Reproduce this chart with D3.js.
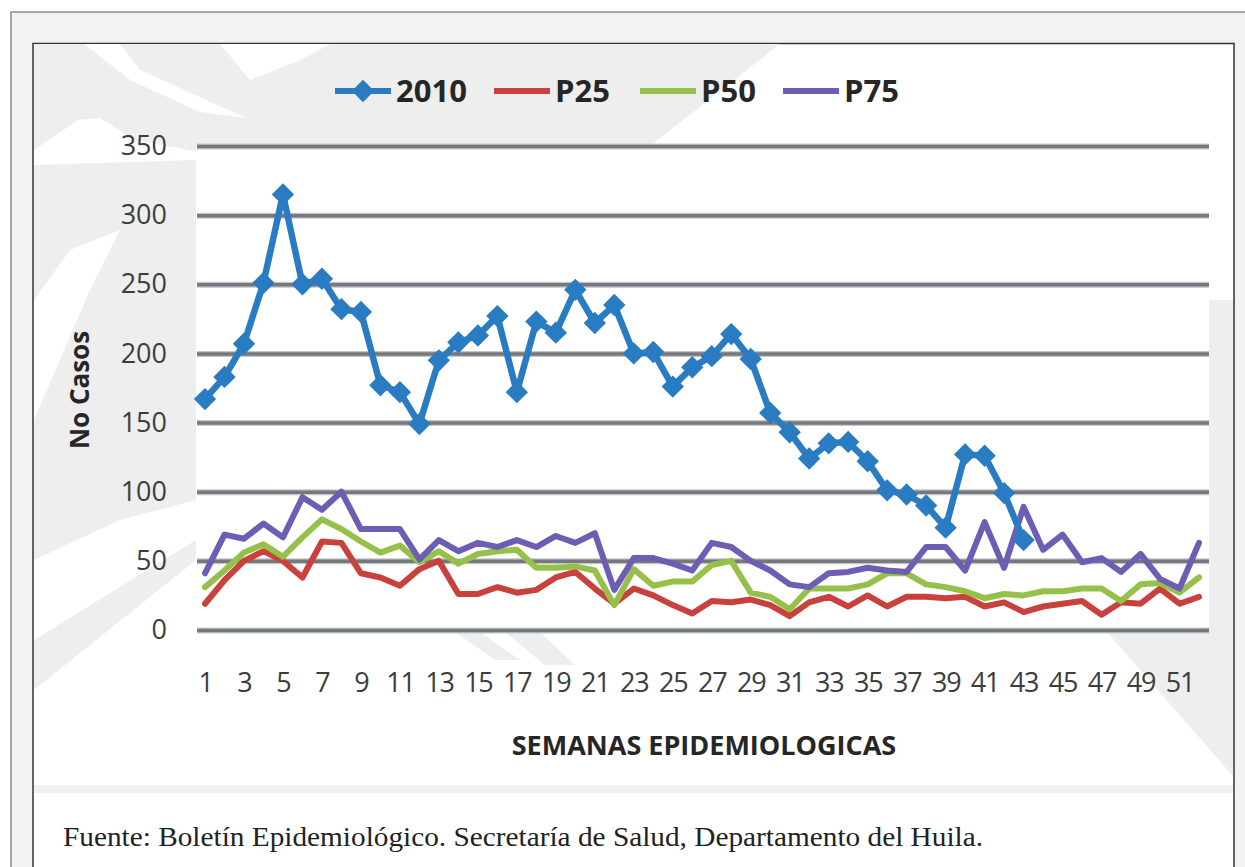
<!DOCTYPE html>
<html><head><meta charset="utf-8">
<script src="https://cdn.jsdelivr.net/npm/d3@7"></script>
<style>html,body{margin:0;padding:0;background:#fff;overflow:hidden} svg{display:block}</style>
</head><body>
<svg id="c" width="1245" height="867"></svg>
<script>
// ---- data ----
const weeks = [1,2,3,4,5,6,7,8,9,10,11,12,13,14,15,16,17,18,19,20,21,22,23,24,25,26,27,28,29,30,31,32,33,34,35,36,37,38,39,40,41,42,43,44,45,46,47,48,49,50,51,52];
const s2010 = [167,183,207,251,315,250,254,232,230,177,172,149,195,208,213,227,172,223,215,246,222,235,200,201,176,190,198,214,196,157,143,124,135,136,122,101,98,90,74,127,126,99,65];
const p25 = [19,36,50,57,50,38,64,63,41,38,32,44,50,26,26,31,27,29,38,42,30,19,30,25,18,12,21,20,22,18,10,20,24,17,25,17,24,24,23,24,17,20,13,17,19,21,11,20,19,30,19,24];
const p50 = [31,43,56,62,53,67,80,73,64,56,61,49,57,48,55,57,58,45,45,46,43,18,44,32,35,35,47,50,27,24,15,30,30,30,33,41,41,33,31,28,23,26,25,28,28,30,30,21,33,34,27,38];
const p75 = [41,69,66,77,67,96,87,100,73,73,73,51,65,57,63,60,65,60,68,63,70,29,52,52,48,43,63,60,50,43,33,31,41,42,45,43,42,60,60,43,78,45,89,58,69,49,52,42,55,37,30,63];
const yTicks = [0,50,100,150,200,250,300,350];
const xTickLabels = [1,3,5,7,9,11,13,15,17,19,21,23,25,27,29,31,33,35,37,39,41,43,45,47,49,51];
const seriesNames = ["2010","P25","P50","P75"];
const seriesColors = ["#2a7cc2","#c8413d","#97c04a","#6d5eb3"];
const yTitle = "No Casos";
const xTitle = "SEMANAS EPIDEMIOLOGICAS";
const caption = "Fuente: Boletín Epidemiológico. Secretaría de Salud, Departamento del Huila.";

// ---- drawing ----
const svg = d3.select("#c");
const sans = "'Open Sans', 'Liberation Sans', sans-serif";

// outer page frame
svg.append("rect").attr("x",11).attr("y",12).attr("width",1245).attr("height",900)
  .attr("fill","#f1f2f4").attr("stroke","#8a8a8a").attr("stroke-width",1.5);
// inner box
svg.append("rect").attr("x",33).attr("y",43.5).attr("width",1201).attr("height",900)
  .attr("fill","#ffffff").attr("stroke","#333").attr("stroke-width",1.5);

// watermark shapes (decorative)
const wm = svg.append("g");
const gray = "#eeeeef";
const polys = [
  [[34,44],[780,44],[650,146],[34,146]],
  [[34,44],[196,44],[196,560],[34,690]],
  [[1209,300],[1233,300],[1233,776],[1107,632],[1209,632]],
  [[505,632],[540,632],[575,665],[545,665]],
  [[455,632],[480,632],[520,660],[495,660]]
];
polys.forEach(p => wm.append("polygon").attr("points", p.map(d=>d.join(",")).join(" ")).attr("fill",gray));
const whites = [
  [[84,44],[120,44],[140,70],[246,118],[200,112],[130,80]],
  [[78,120],[100,118],[135,140],[200,152],[196,160],[34,165],[34,150]],
  [[220,44],[330,44],[300,60],[250,80]],
  [[34,300],[70,250],[120,230],[90,290],[34,420]],
  [[34,560],[120,520],[196,500],[196,540],[34,640]]
];
whites.forEach(p => wm.append("polygon").attr("points", p.map(d=>d.join(",")).join(" ")).attr("fill","#fff"));

// plot area
const L = 197, R = 1209, T = 146, B = 630;
svg.append("rect").attr("x",L).attr("y",T).attr("width",R-L).attr("height",B-T+2).attr("fill","#fff");

// bottom separator band
svg.append("rect").attr("x",34).attr("y",785).attr("width",1199).attr("height",8).attr("fill","#eef0f2");

const x = d3.scaleLinear().domain([1,52]).range([205,1199]);
const y = d3.scaleLinear().domain([0,350]).range([B,T]);

// y axis with gridlines
const yAxis = d3.axisLeft(y).tickValues(yTicks).tickSize(-(R-L)).tickPadding(30);
const gy = svg.append("g").attr("transform",`translate(${L},0)`).call(yAxis);
gy.select(".domain").remove();
gy.selectAll(".tick line").attr("stroke","#75797d").attr("stroke-width",3.5);
gy.selectAll(".tick").insert("line","line").attr("x2",R-L).attr("stroke","#c4c7ca").attr("stroke-width",6);
gy.selectAll("text").attr("font-family",sans).attr("font-size",27).attr("fill","#3d3d3d");

// x axis labels
const xAxis = d3.axisBottom(x).tickValues(xTickLabels).tickSize(0).tickPadding(43).tickFormat(d3.format("d"));
const gx = svg.append("g").attr("transform",`translate(0,${B})`).call(xAxis);
gx.select(".domain").remove();
gx.selectAll("text").attr("font-family",sans).attr("font-size",27).attr("fill","#3d3d3d").attr("letter-spacing",-1.2);

// lines
const line = d3.line().x((d,i)=>x(weeks[i])).y(d=>y(d));
const series = [
  {vals:p25, c:seriesColors[1], w:6},
  {vals:p50, c:seriesColors[2], w:6},
  {vals:p75, c:seriesColors[3], w:6},
  {vals:s2010, c:seriesColors[0], w:6.5}
];
series.forEach(s => {
  svg.append("path").datum(s.vals).attr("d",line).attr("fill","none")
    .attr("stroke",s.c).attr("stroke-width",s.w).attr("stroke-linejoin","round").attr("stroke-linecap","round");
});
const diamond = d3.symbol().type(d3.symbolSquare).size(250);
svg.append("g").selectAll("path").data(s2010).join("path")
  .attr("d",diamond)
  .attr("transform",(d,i)=>`translate(${x(weeks[i])},${y(d)}) rotate(45)`)
  .attr("fill",seriesColors[0]);

// legend
const legend = svg.append("g").attr("font-family",sans).attr("font-weight","bold").attr("font-size",31).attr("fill","#262626");
const legendX = [335,494,640,783];
seriesNames.forEach((n,i) => {
  const lx = legendX[i];
  legend.append("line").attr("x1",lx).attr("x2",lx+56).attr("y1",91).attr("y2",91)
    .attr("stroke",seriesColors[i]).attr("stroke-width",6);
  if (i===0) legend.append("path").attr("d",diamond).attr("transform",`translate(${lx+28},91) rotate(45)`).attr("fill",seriesColors[0]);
  legend.append("text").attr("x",lx+61).attr("y",102).text(n);
});

// axis titles
svg.append("text").attr("transform","translate(89,390) rotate(-90)").attr("text-anchor","middle")
  .attr("font-family",sans).attr("font-weight","bold").attr("font-size",26).attr("fill","#262626").text(yTitle);
svg.append("text").attr("x",704).attr("y",755).attr("text-anchor","middle")
  .attr("font-family",sans).attr("font-weight","bold").attr("font-size",27).attr("fill","#262626").text(xTitle);

// caption
svg.append("text").attr("x",63).attr("y",846).attr("font-family","'Liberation Serif', 'DejaVu Serif', serif")
  .attr("font-size",28).attr("textLength",920).attr("lengthAdjust","spacingAndGlyphs").attr("fill","#222").text(caption);
</script>
</body></html>
